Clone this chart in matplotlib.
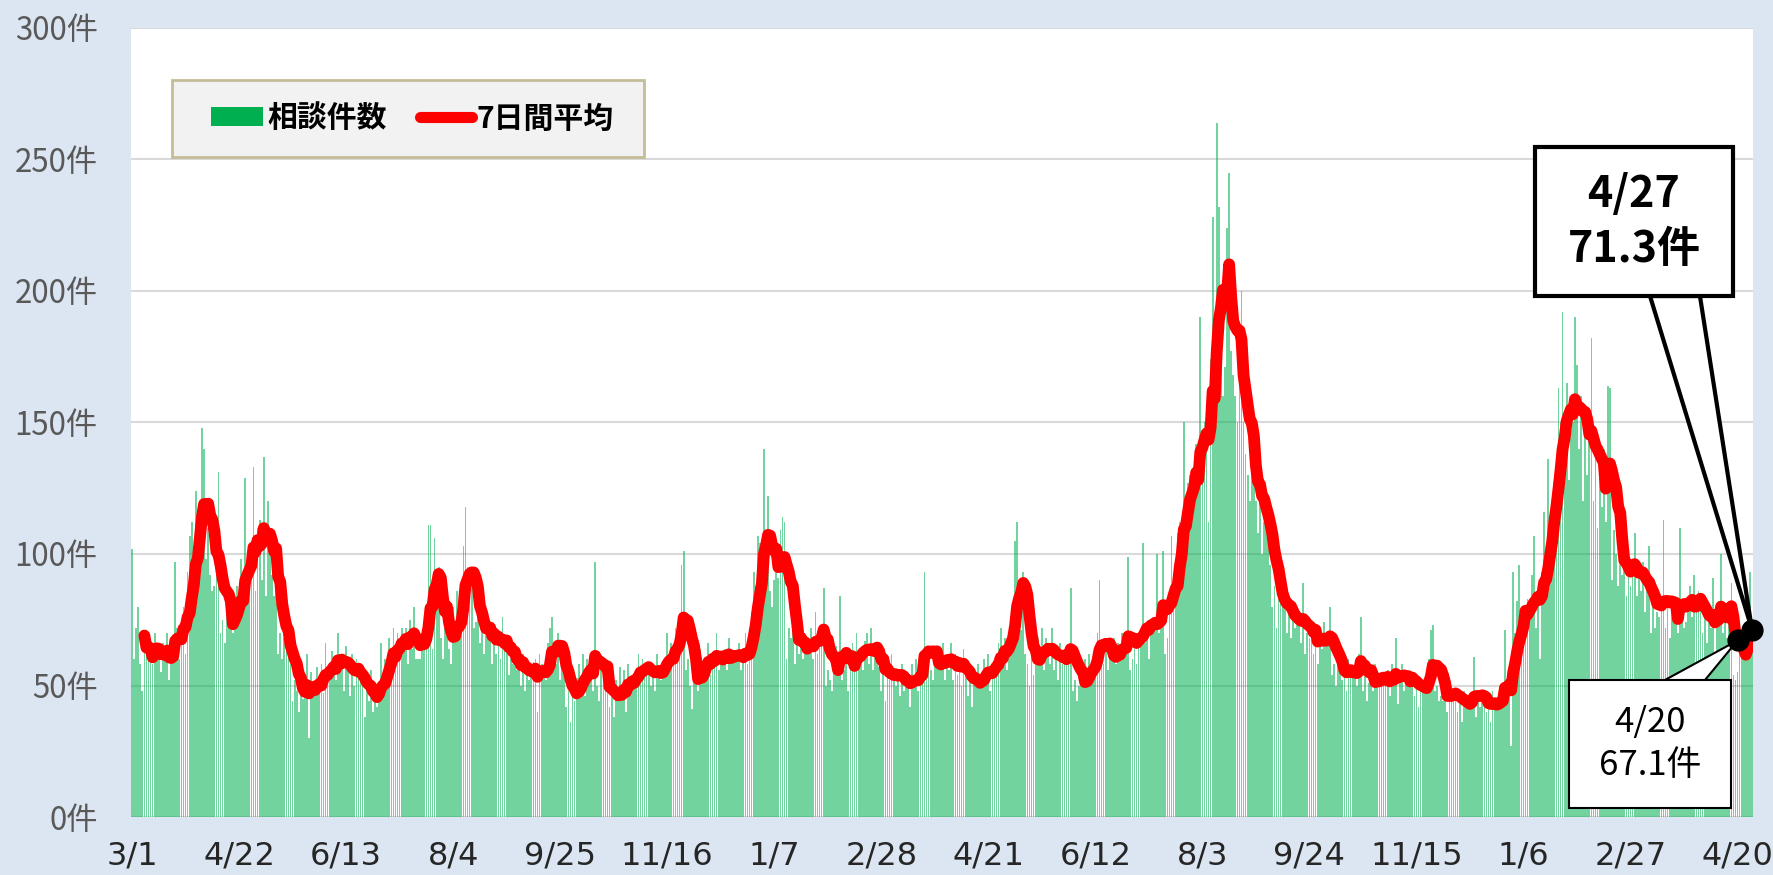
import numpy as np
import pandas as pd
import matplotlib
matplotlib.use('Agg')
import matplotlib.pyplot as plt
from matplotlib.patches import Patch, Rectangle, Polygon
from matplotlib.lines import Line2D

plt.rcParams['font.family'] = ['Noto Sans CJK JP', 'DejaVu Sans']

# daily consultation counts, one row per week (Sun..Sat), from 2020/3/1 to 2022/4/27
daily = [
    102, 60, 72, 80, 58, 48, 63,
    70, 62, 66, 58, 70, 60, 62,
    55, 66, 60, 70, 52, 58, 66,
    97, 72, 60, 68, 80, 62, 93,
    107, 112, 95, 124, 96, 118, 148,
    140, 98, 110, 92, 86, 88, 93,
    131, 70, 75, 66, 78, 80, 74,
    70, 82, 88, 84, 98, 79, 129,
    84, 95, 100, 133, 86, 110, 113,
    90, 137, 84, 120, 100, 92, 84,
    98, 62, 70, 60, 68, 66, 73,
    58, 44, 52, 48, 40, 56, 45,
    48, 62, 30, 55, 50, 48, 57,
    52, 58, 47, 66, 50, 56, 63,
    60, 52, 70, 56, 62, 48, 65,
    58, 46, 62, 50, 60, 54, 55,
    52, 38, 50, 44, 56, 40, 49,
    42, 46, 66, 52, 60, 58, 68,
    60, 72, 56, 70, 64, 72, 68,
    72, 58, 75, 64, 80, 60, 60,
    60, 70, 66, 78, 111, 111, 64,
    106, 82, 95, 68, 60, 72, 77,
    64, 58, 80, 70, 86, 72, 88,
    103, 118, 95, 85, 90, 72, 74,
    80, 66, 78, 62, 70, 74, 74,
    58, 72, 62, 70, 60, 76, 64,
    66, 54, 62, 58, 60, 56, 64,
    50, 62, 48, 58, 52, 56, 59,
    60, 40, 62, 58, 54, 52, 66,
    72, 76, 62, 58, 70, 52, 65,
    54, 42, 48, 36, 52, 44, 53,
    58, 50, 62, 46, 60, 56, 60,
    48, 97, 50, 44, 56, 52, 52,
    50, 42, 46, 38, 52, 44, 57,
    46, 56, 40, 58, 50, 54, 53,
    56, 62, 52, 60, 54, 58, 57,
    50, 58, 48, 62, 56, 52, 59,
    60, 70, 56, 66, 58, 72, 66,
    72, 96, 101, 56, 60, 50, 41,
    52, 60, 48, 64, 56, 60, 59,
    66, 54, 62, 58, 70, 56, 61,
    58, 64, 56, 68, 60, 62, 59,
    60, 66, 56, 62, 70, 58, 62,
    78, 93, 88, 107, 104, 90, 140,
    100, 122, 86, 80, 90, 96, 91,
    109, 114, 112, 60, 72, 68, 81,
    58, 70, 62, 66, 60, 68, 64,
    64, 72, 60, 78, 62, 68, 72,
    87, 50, 56, 52, 48, 62, 65,
    58, 84, 52, 56, 60, 48, 62,
    66, 58, 70, 60, 64, 56, 67,
    70, 58, 72, 56, 62, 66, 57,
    48, 60, 44, 58, 52, 62, 54,
    50, 56, 46, 58, 48, 52, 54,
    42, 58, 50, 60, 48, 62, 58,
    93, 62, 58, 56, 52, 60, 60,
    62, 58, 66, 52, 60, 56, 66,
    52, 62, 54, 60, 50, 64, 57,
    46, 56, 42, 54, 50, 58, 51,
    50, 60, 54, 62, 48, 58, 60,
    58, 66, 72, 60, 68, 56, 68,
    72, 80, 105, 112, 90, 71, 93,
    62, 58, 50, 66, 54, 62, 68,
    60, 72, 56, 68, 62, 58, 72,
    56, 64, 52, 66, 58, 62, 62,
    60, 87, 48, 52, 44, 50, 51,
    54, 60, 50, 62, 56, 58, 59,
    70, 90, 62, 58, 64, 56, 62,
    60, 68, 58, 66, 62, 70, 64,
    62, 99, 56, 60, 64, 58, 70,
    68, 104, 66, 72, 60, 70, 71,
    74, 100, 70, 78, 101, 62, 68,
    84, 107, 90, 96, 108, 112, 103,
    150, 115, 127, 130, 124, 129, 142,
    130, 190, 138, 150, 142, 112, 174,
    228, 170, 264, 232, 175, 160, 171,
    224, 245, 177, 168, 160, 150, 171,
    200, 150, 138, 130, 120, 140, 137,
    120, 108, 130, 100, 112, 118, 117,
    96, 80, 88, 72, 90, 84, 85,
    80, 70, 84, 68, 78, 72, 80,
    74, 66, 89, 62, 70, 68, 75,
    62, 72, 58, 70, 64, 74, 69,
    66, 80, 54, 58, 50, 62, 57,
    52, 58, 48, 60, 54, 56, 57,
    50, 62, 76, 48, 54, 44, 51,
    56, 48, 58, 50, 54, 52, 53,
    50, 56, 46, 58, 50, 68, 43,
    52, 58, 48, 56, 50, 54, 53,
    46, 54, 42, 52, 48, 50, 51,
    60, 71, 73, 48, 50, 44, 46,
    44, 50, 40, 52, 46, 48, 49,
    40, 46, 36, 48, 42, 44, 45,
    44, 61, 38, 48, 42, 46, 43,
    40, 46, 36, 48, 44, 42, 45,
    44, 50, 71, 48, 52, 27, 93,
    70, 82, 96, 66, 74, 68, 83,
    80, 92, 107, 72, 84, 60, 93,
    116, 100, 136, 110, 120, 112, 132,
    163, 150, 192, 140, 165, 128, 147,
    150, 190, 172, 140, 160, 120, 146,
    130, 150, 182, 120, 140, 110, 134,
    118, 140, 112, 164, 163, 90, 109,
    100, 88, 96, 92, 107, 84, 98,
    88, 96, 108, 84, 92, 86, 97,
    78, 86, 103, 70, 80, 72, 78,
    76, 84, 113, 72, 80, 68, 81,
    74, 82, 70, 110, 78, 72, 74,
    80, 88, 76, 92, 78, 86, 81,
    70, 78, 66, 80, 72, 91, 61,
    74, 82, 100, 70, 76, 68, 76,
    89, 54, 52, 55, 65, 70, 62,
    74, 70, 93, 65,
]
start_date = '2020-03-01'
tick_labels = ['3/1', '4/22', '6/13', '8/4', '9/25', '11/16', '1/7', '2/28',
               '4/21', '6/12', '8/3', '9/24', '11/15', '1/6', '2/27', '4/20']
tick_step = 52
y_ticks = [0, 50, 100, 150, 200, 250, 300]
callout_days = ['2022-04-20', '2022-04-27']
callout_texts = ['4/20\n67.1件', '4/27\n71.3件']

dates = pd.date_range(start_date, periods=len(daily), freq='D')
s = pd.Series(daily, index=dates)
avg = s.rolling(7).mean()
x = np.arange(len(daily))

fig = plt.figure(figsize=(17.74, 8.75), dpi=100)
fig.patch.set_facecolor('#DCE6F2')
ax = fig.add_axes([131 / 1774, 1 - 817 / 875, 1622 / 1774, 789 / 875])
ax.set_facecolor('white')

ax.bar(x, s.values, width=0.85, color='#00B050', alpha=0.55, linewidth=0, zorder=2)
ax.plot(x, avg.values, color='#FF0000', lw=8.5, solid_capstyle='round',
        solid_joinstyle='round', zorder=3)

ax.set_xlim(-0.5, len(daily) - 0.5)
ax.set_ylim(0, 300)
ax.set_yticks(y_ticks)
ax.set_yticklabels([f'{v}件' for v in y_ticks], fontsize=22.5, color='#595959')
ax.set_xticks(np.arange(len(tick_labels)) * tick_step)
ax.set_xticklabels(tick_labels, fontsize=23, color='#262626',
                   family='Liberation Sans Narrow')
ax.tick_params(axis='y', length=0, pad=24)
ax.tick_params(axis='x', length=0, pad=17)
ax.yaxis.grid(True, color='#D9D9D9', lw=1.5)
ax.set_axisbelow(True)
for sp in ax.spines.values():
    sp.set_visible(False)

# markers on the 7-day line
ci = [dates.get_loc(pd.Timestamp(d)) for d in callout_days]
cy = [avg.iloc[i] for i in ci]
ax.plot(ci, cy, 'o', color='black', ms=15, zorder=8, clip_on=False)

# callouts: box + wedge pointing at the marker
to_axes = ax.transData + ax.transAxes.inverted()


def callout(txt, tip, box, base, fs, weight, lw):
    x0, y0, x1, y1 = box
    bx0, bx1, by = base
    tx, ty = to_axes.transform(tip)
    ax.add_patch(Polygon([(bx0, by), (bx1, by), (tx, ty)], closed=True,
                         transform=ax.transAxes, fc='white', ec='black', lw=lw,
                         joinstyle='miter', clip_on=False, zorder=6))
    ax.add_patch(Rectangle((x0, y0), x1 - x0, y1 - y0, transform=ax.transAxes,
                           fc='white', ec='black', lw=lw, clip_on=False, zorder=7))
    ax.text((x0 + x1) / 2, (y0 + y1) / 2, txt, transform=ax.transAxes,
            ha='center', va='center', fontsize=fs, fontweight=weight,
            linespacing=1.3, zorder=8)


callout(callout_texts[1], (ci[1], cy[1]), (0.8656, 0.6603, 0.9877, 0.8492),
        (0.9365, 0.9673, 0.6603), 31, 'bold', 3)
callout(callout_texts[0], (ci[0], cy[0]), (0.8866, 0.0114, 0.9864, 0.1736),
        (0.9457, 0.9704, 0.1736), 25, 'normal', 1.5)

# legend in a drawn frame
ax.add_patch(Rectangle((0.025, 0.836), 0.291, 0.098, transform=ax.transAxes,
                       fc='#F2F2F2', ec='#C4BD97', lw=2, zorder=5))
handles = [Patch(facecolor='#00B050', edgecolor='none'),
           Line2D([], [], color='#FF0000', lw=8, solid_capstyle='round')]
leg = ax.legend(handles, ['相談件数', '7日間平均'], ncol=2,
                loc='center left', bbox_to_anchor=(0.0493, 0.8853),
                prop=dict(weight='bold', size=21.5), handlelength=1.75,
                handleheight=0.6, handletextpad=0.15, columnspacing=1.1,
                borderpad=0, borderaxespad=0, frameon=False)
leg.set_zorder(6)

fig.savefig('out.png', dpi=100, facecolor=fig.get_facecolor())
